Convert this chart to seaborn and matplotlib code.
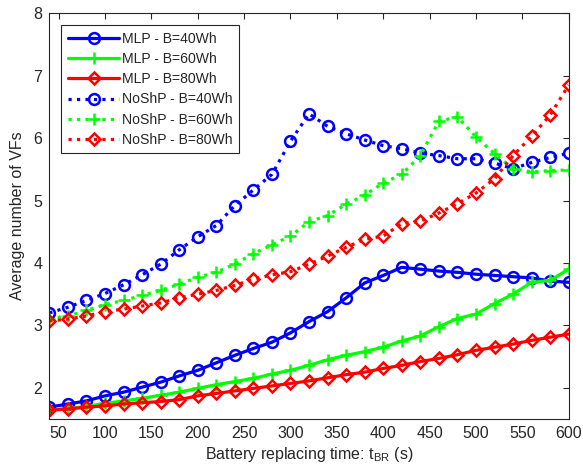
import numpy as np
import pandas as pd
import matplotlib
matplotlib.use("Agg")
import matplotlib.pyplot as plt
import seaborn as sns

# ---- data ----
t_br = [40, 60, 80, 100, 120, 140, 160, 180, 200, 220, 240, 260, 280, 300, 320,
        340, 360, 380, 400, 420, 440, 460, 480, 500, 520, 540, 560, 580, 600]

mlp_40 = [1.69, 1.74, 1.79, 1.87, 1.93, 2.01, 2.09, 2.19, 2.28, 2.40, 2.52, 2.63, 2.73, 2.88, 3.06,
          3.22, 3.44, 3.68, 3.80, 3.93, 3.90, 3.87, 3.85, 3.82, 3.80, 3.78, 3.76, 3.71, 3.69]
mlp_60 = [1.64, 1.67, 1.70, 1.75, 1.79, 1.83, 1.88, 1.93, 1.99, 2.05, 2.10, 2.15, 2.22, 2.28, 2.36,
          2.45, 2.52, 2.58, 2.65, 2.75, 2.83, 2.98, 3.11, 3.18, 3.35, 3.50, 3.69, 3.72, 3.90]
mlp_80 = [1.64, 1.66, 1.69, 1.71, 1.74, 1.76, 1.78, 1.81, 1.87, 1.91, 1.95, 1.99, 2.03, 2.07, 2.11,
          2.16, 2.21, 2.25, 2.31, 2.36, 2.42, 2.47, 2.53, 2.60, 2.65, 2.70, 2.76, 2.81, 2.86]
noshp_40 = [3.20, 3.29, 3.40, 3.51, 3.65, 3.81, 3.98, 4.21, 4.42, 4.60, 4.92, 5.17, 5.42, 5.95, 6.39,
            6.19, 6.07, 5.97, 5.88, 5.83, 5.76, 5.72, 5.67, 5.67, 5.60, 5.51, 5.61, 5.69, 5.76]
noshp_60 = [3.11, 3.15, 3.24, 3.33, 3.40, 3.48, 3.56, 3.66, 3.77, 3.85, 3.98, 4.15, 4.29, 4.43, 4.66,
            4.76, 4.94, 5.09, 5.28, 5.42, 5.72, 6.27, 6.34, 6.02, 5.75, 5.51, 5.46, 5.48, 5.49]
noshp_80 = [3.07, 3.10, 3.15, 3.22, 3.26, 3.31, 3.36, 3.44, 3.50, 3.56, 3.64, 3.74, 3.81, 3.86, 3.98,
            4.11, 4.25, 4.38, 4.43, 4.63, 4.67, 4.80, 4.95, 5.12, 5.35, 5.72, 6.03, 6.37, 6.85]

labels = ["MLP - B=40Wh", "MLP - B=60Wh", "MLP - B=80Wh",
          "NoShP - B=40Wh", "NoShP - B=60Wh", "NoShP - B=80Wh"]
x_ticks = [50, 100, 150, 200, 250, 300, 350, 400, 450, 500, 550, 600]
y_ticks = [2, 3, 4, 5, 6, 7, 8]

# ---- style ----
sns.set_style("white")
plt.rcParams['font.family'] = ['Liberation Sans', 'DejaVu Sans']
plt.rcParams['mathtext.default'] = 'regular'

fig = plt.figure(figsize=(5.83, 4.72), dpi=100)
ax = fig.add_axes([0.0846, 0.1123, 0.8909, 0.8595])

series = [mlp_40, mlp_60, mlp_80, noshp_40, noshp_60, noshp_80]
colors = ["#0000ff", "#00ff00", "#ff0000"] * 2
markers = ["o", "+", "D"] * 2
styles = ["-"] * 3 + [":"] * 3
msizes = [7.8, 9, 6.4] * 2

for vals, lab, c, m, ls, ms in zip(series, labels, colors, markers, styles, msizes):
    df = pd.DataFrame({"t": t_br, "v": vals})
    sns.lineplot(data=df, x="t", y="v", ax=ax, color=c, marker=m, linestyle=ls,
                 linewidth=2.3, markersize=ms, markerfacecolor="none",
                 markeredgecolor=c, markeredgewidth=1.8, label=lab)

ax.set_xlim(40, 600)
ax.set_ylim(1.5, 8)
ax.set_xticks(x_ticks)
ax.set_yticks(y_ticks)
ax.tick_params(direction="in", length=4, width=0.8, top=True, right=True,
               labelsize=11.5, colors="#262626", pad=5)
for s in ax.spines.values():
    s.set_color("#262626")
    s.set_linewidth(0.8)
    s.set_visible(True)

ax.set_xlabel(r"Battery replacing time: t$_{BR}$ (s)", fontsize=11.5, color="#262626", labelpad=3)
ax.set_ylabel("Average number of VFs", fontsize=11.5, color="#262626", labelpad=6)

leg = ax.legend(loc="upper left", fontsize=10.1, frameon=True, fancybox=False,
                edgecolor="#262626", framealpha=1, handlelength=3.7, labelspacing=0.45,
                borderaxespad=0.85, handletextpad=0.2, borderpad=0.45)
leg.get_frame().set_linewidth(0.8)

fig.savefig("out.png", dpi=100)
